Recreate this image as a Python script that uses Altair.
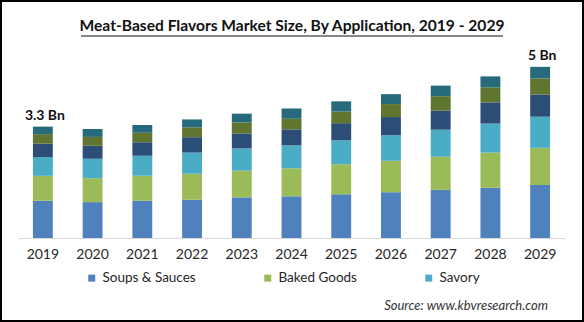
import altair as alt
import pandas as pd

years = ["2019", "2020", "2021", "2022", "2023", "2024", "2025", "2026", "2027", "2028", "2029"]
soups_sauces = [1.09, 1.05, 1.09, 1.12, 1.19, 1.22, 1.28, 1.34, 1.41, 1.47, 1.55]
baked_goods = [0.73, 0.70, 0.73, 0.76, 0.78, 0.82, 0.88, 0.92, 0.97, 1.03, 1.09]
savory = [0.55, 0.57, 0.59, 0.62, 0.65, 0.67, 0.70, 0.75, 0.79, 0.85, 0.91]
snacks = [0.39, 0.38, 0.39, 0.45, 0.44, 0.47, 0.50, 0.53, 0.56, 0.62, 0.65]
ready_meals = [0.28, 0.26, 0.28, 0.29, 0.32, 0.31, 0.34, 0.38, 0.42, 0.44, 0.47]
others = [0.22, 0.23, 0.23, 0.23, 0.26, 0.30, 0.30, 0.29, 0.31, 0.32, 0.34]

series_names = ["Soups & Sauces", "Baked Goods", "Savory", "Snacks", "Ready Meals", "Others"]
series_values = [soups_sauces, baked_goods, savory, snacks, ready_meals, others]
colors = ["#4F81BD", "#9BBB59", "#4BACC6", "#2C4D75", "#5F7530", "#276A7C"]

label_years = ["2019", "2029"]
label_texts = ["3.3 Bn", "5 Bn"]

title_text = "Meat-Based Flavors Market Size, By Application, 2019 - 2029"
source_text = "Source:  www.kbvresearch.com"

rows = []
for idx, (name, vals) in enumerate(zip(series_names, series_values)):
    for y, v in zip(years, vals):
        rows.append({"year": y, "series": name, "value": v, "idx": idx})
df = pd.DataFrame(rows)

totals = df.groupby("year")["value"].sum()
lab_df = pd.DataFrame({
    "year": label_years,
    "label": label_texts,
    "total": [totals[y] for y in label_years],
})

FONT = "Lato"

x_enc = alt.X(
    "year:N",
    sort=years,
    scale=alt.Scale(paddingInner=0.6, paddingOuter=0.3),
    axis=alt.Axis(
        title=None, labelAngle=0, ticks=False, domainColor="#d9d9d9",
        domainWidth=1, labelFontSize=14, labelFont=FONT, labelColor="#262626",
        labelPadding=9, grid=False,
    ),
)
y_scale = alt.Scale(domain=[0, 6], nice=False, zero=True)

bars = alt.Chart(df).mark_bar().encode(
    x=x_enc,
    y=alt.Y("value:Q", stack="zero", scale=y_scale, axis=None),
    color=alt.Color(
        "series:N",
        scale=alt.Scale(domain=series_names, range=colors),
        legend=alt.Legend(
            values=series_names[:3], orient="none", legendX=67, legendY=238,
            direction="horizontal", title=None, symbolType="square",
            symbolSize=49, symbolStrokeWidth=0, labelFontSize=13.5,
            labelFont=FONT, labelColor="#262626", columnPadding=65,
            labelOffset=4, padding=0,
        ),
    ),
    order=alt.Order("idx:Q", sort="ascending"),
)

labels = alt.Chart(lab_df).mark_text(
    font=FONT, fontSize=14, fontWeight="bold", baseline="bottom", dy=-4, dx=2, color="#111"
).encode(
    x=alt.X("year:N", sort=years),
    y=alt.Y("total:Q", scale=y_scale, axis=None),
    text="label:N",
)

dummy = pd.DataFrame({"a": [0]})

title = alt.Chart(dummy).mark_text(
    text=title_text, font=FONT, fontSize=15.6, fontWeight="bold",
    baseline="alphabetic", align="center", color="#111"
).encode(x=alt.value(274), y=alt.value(-2))

underline = alt.Chart(dummy).mark_rule(color="#111", strokeWidth=1.2).encode(
    x=alt.value(63), x2=alt.value(485), y=alt.value(3)
)

source = alt.Chart(dummy).mark_text(
    text=source_text, font=FONT, fontSize=13, fontStyle="italic",
    baseline="middle", align="right", color="#333"
).encode(x=alt.value(530), y=alt.value(273))

border = alt.Chart(dummy).mark_rect(
    fillOpacity=0, stroke="black", strokeWidth=2
).encode(x=alt.value(-17), x2=alt.value(565), y=alt.value(-32), y2=alt.value(288))

chart = alt.layer(bars, labels, title, underline, source, border).properties(
    width=547, height=205,
    padding={"left": 18, "top": 33, "right": 19, "bottom": 84},
    autosize=alt.AutoSizeParams(type="none"),
    background="white",
).configure_view(stroke=None)

chart.save("out.html", embed_options={"renderer": "svg", "actions": False})
